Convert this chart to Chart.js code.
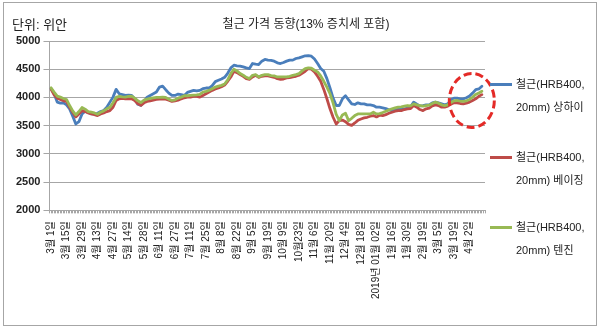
<!DOCTYPE html>
<html>
<head>
<meta charset="utf-8">
<script src="https://cdn.jsdelivr.net/npm/chart.js@4.4.1/dist/chart.umd.min.js"></script>
<style>
  html, body { margin: 0; padding: 0; background: #fff; }
  #wrap {
    position: relative; width: 600px; height: 327px; overflow: hidden;
    font-family: "Liberation Sans", "Noto Sans CJK KR", sans-serif; color: #222;
  }
  #frame {
    position: absolute; left: 3px; top: 2px; width: 592px; height: 322px;
    border: 1px solid #a6a6a6;
  }
  canvas { position: absolute; left: 0; top: 0; }
  #unit { position: absolute; left: 12px; top: 16px; font-size: 13px; line-height: 18px; }
  #title { position: absolute; left: 0; width: 612px; top: 15px; text-align: center; font-size: 12px; line-height: 18px; }
  .leg { position: absolute; left: 490px; }
  .leg .sw { position: absolute; left: 0; top: 10px; width: 22px; height: 3px; }
  .leg .txt { position: absolute; left: 26px; top: 0; white-space: nowrap; font-size: 11px; line-height: 23px; }
</style>
</head>
<body>
<div id="wrap">
  <canvas id="chart" width="600" height="327"></canvas>
  <div id="frame"></div>
  <div id="unit">단위: 위안</div>
  <div id="title">철근 가격 동향(13% 증치세 포함)</div>
  <div id="legend"></div>
</div>
<script>
// x labels, one every 10 trading days
const dateLabels = [
  '3월 1일', '3월 15일', '3월 29일', '4월 13일', '4월 27일', '5월 14일', '5월 28일',
  '6월 11일', '6월 27일', '7월 11일', '7월 25일', '8월 8일', '8월 22일', '9월 5일',
  '9월 19일', '10월 9일', '10월23일', '11월 6일', '11월 20일', '12월 4일', '12월 18일',
  '2019년 01월 02일', '1월 16일', '1월 30일', '2월 19일', '3월 5일', '3월 19일', '4월 2일'
];
const DAY_STEP = 2; // one price sample every 2 trading days

const seriesNames = ['철근(HRB400, 20mm) 상하이', '철근(HRB400, 20mm) 베이징', '철근(HRB400, 20mm) 텐진'];

// 상하이
const shanghai = [
  4160, 4065, 3917, 3899, 3905, 3869, 3798, 3667, 3530, 3571,
  3708, 3756, 3732, 3708, 3708, 3720, 3750, 3768, 3827, 3917,
  4006, 4143, 4065, 4050, 4036, 4042, 4036, 3976, 3880, 3860,
  3929, 4006, 4036, 4065, 4095, 4184, 4202, 4137, 4077, 4036,
  4036, 4060, 4048, 4036, 4089, 4107, 4125, 4115, 4125, 4155,
  4167, 4167, 4208, 4280, 4304, 4327, 4357, 4428, 4524, 4571,
  4560, 4554, 4542, 4524, 4512, 4601, 4589, 4583, 4643, 4673,
  4661, 4655, 4643, 4613, 4601, 4619, 4643, 4661, 4661, 4690,
  4702, 4720, 4738, 4740, 4730, 4680, 4600, 4512, 4464, 4333,
  4167, 3988, 3857, 3857, 3975, 4030, 3958, 3887, 3875, 3905,
  3887, 3887, 3869, 3869, 3857, 3827, 3827, 3815, 3804, 3780,
  3768, 3774, 3792, 3798, 3798, 3810, 3833, 3917, 3880, 3850,
  3857, 3869, 3869, 3905, 3917, 3905, 3887, 3869, 3887, 3958,
  3988, 3988, 3976, 3976, 3994, 4024, 4077, 4137, 4150, 4200
];
// 베이징
const beijing = [
  4150, 4048, 3988, 3964, 3940, 3929, 3827, 3738, 3655, 3708,
  3768, 3750, 3726, 3708, 3696, 3679, 3708, 3726, 3750, 3768,
  3827, 3946, 3976, 3985, 3976, 3976, 3976, 3946, 3887, 3860,
  3905, 3929, 3940, 3952, 3964, 3970, 3976, 3970, 3952, 3929,
  3940, 3952, 3976, 3994, 4006, 4006, 4018, 4020, 4006, 4036,
  4065, 4095, 4125, 4149, 4167, 4190, 4220, 4286, 4363, 4464,
  4440, 4405, 4375, 4333, 4321, 4363, 4393, 4357, 4375, 4381,
  4381, 4369, 4357, 4333, 4321, 4327, 4345, 4351, 4363, 4375,
  4393, 4429, 4464, 4512, 4500, 4452, 4375, 4286, 4143, 3976,
  3798, 3649, 3530, 3589, 3600, 3571, 3524, 3506, 3548, 3595,
  3619, 3637, 3649, 3667, 3679, 3655, 3685, 3679, 3696, 3720,
  3738, 3756, 3768, 3768, 3786, 3798, 3804, 3857, 3827, 3786,
  3768, 3798, 3810, 3851, 3869, 3857, 3827, 3827, 3845, 3881,
  3905, 3905, 3893, 3887, 3899, 3917, 3946, 3976, 4020, 4050
];
// 텐진
const tianjin = [
  4170, 4095, 4024, 4006, 3982, 3964, 3857, 3762, 3690, 3750,
  3821, 3792, 3750, 3738, 3726, 3702, 3738, 3762, 3798, 3827,
  3905, 4000, 4018, 4010, 4006, 4018, 4024, 3988, 3940, 3910,
  3952, 3970, 3982, 3994, 4000, 4000, 4006, 4000, 3970, 3946,
  3958, 3988, 4006, 4030, 4030, 4036, 4042, 4045, 4054, 4095,
  4107, 4125, 4155, 4184, 4202, 4214, 4238, 4310, 4423, 4500,
  4470, 4423, 4393, 4357, 4333, 4393, 4405, 4363, 4393, 4405,
  4405, 4387, 4381, 4363, 4363, 4363, 4363, 4375, 4393, 4405,
  4423, 4470, 4512, 4524, 4518, 4482, 4452, 4381, 4286, 4184,
  4065, 3900, 3700, 3589, 3690, 3720, 3589, 3631, 3679, 3708,
  3708, 3708, 3708, 3708, 3738, 3708, 3714, 3732, 3756, 3780,
  3798, 3815, 3827, 3833, 3845, 3857, 3851, 3887, 3870, 3857,
  3845, 3857, 3863, 3893, 3917, 3899, 3869, 3857, 3869, 3911,
  3940, 3946, 3935, 3929, 3940, 3964, 4006, 4054, 4080, 4110
];

const colors = ['#4a7ebb', '#be4b48', '#98b954'];
const FONT = "'Liberation Sans', 'Noto Sans CJK KR', sans-serif";

function toPoints(arr) {
  return arr.map((v, i) => ({ x: i * DAY_STEP, y: v }));
}

// red dashed ring around the latest rise
const ring = { day: 271.5, value: 3946 };
const ringPlugin = {
  id: 'ring',
  afterDraw(chart) {
    const { ctx, scales } = chart;
    const cx = scales.x.getPixelForValue(ring.day);
    const cy = scales.y.getPixelForValue(ring.value);
    ctx.save();
    ctx.strokeStyle = '#e42a27';
    ctx.lineWidth = 3;
    ctx.setLineDash([8, 4]);
    ctx.beginPath();
    ctx.ellipse(cx, cy, 22.5, 27, 0, 0, Math.PI * 2);
    ctx.stroke();
    ctx.restore();
  }
};

const lines = [shanghai, beijing, tianjin];
const datasets = lines.map((arr, i) => ({
  label: seriesNames[i],
  data: toPoints(arr),
  borderColor: colors[i],
  backgroundColor: colors[i],
  borderWidth: 2.8,
  pointRadius: 0,
  tension: 0,
  borderJoinStyle: 'round',
  borderCapStyle: 'round',
  order: 2 - i // 텐진 on top
}));

new Chart(document.getElementById('chart'), {
  type: 'line',
  data: { datasets },
  options: {
    responsive: false,
    animation: false,
    layout: { padding: { left: 13, top: 41, right: 115, bottom: 20 } },
    plugins: { legend: { display: false }, title: { display: false }, tooltip: { enabled: false } },
    scales: {
      x: {
        type: 'linear',
        min: -1,
        max: 280,
        ticks: {
          stepSize: 1,
          autoSkip: false,
          maxTicksLimit: 1000,
          minRotation: 90,
          maxRotation: 90,
          padding: 8,
          color: '#222',
          font: { size: 10, family: FONT },
          callback: (v) => (v >= 0 && v % 10 === 0 && dateLabels[v / 10]) ? dateLabels[v / 10] : ''
        },
        grid: { drawOnChartArea: false, tickLength: 3, color: '#a6a6a6' },
        border: { color: '#a6a6a6' }
      },
      y: {
        min: 2000,
        max: 5000,
        ticks: {
          stepSize: 500,
          padding: 3,
          color: '#222',
          font: { size: 11, weight: 'bold', family: FONT },
          callback: (v) => String(v)
        },
        grid: { color: '#a6a6a6', tickLength: 6 },
        border: { color: '#a6a6a6' }
      }
    }
  },
  plugins: [ringPlugin]
});

// legend beside the plot, two text lines per series
const legendTops = [73, 146, 216];
const legend = document.getElementById('legend');
seriesNames.forEach((name, i) => {
  const item = document.createElement('div');
  item.className = 'leg';
  item.style.top = legendTops[i] + 'px';
  const sw = document.createElement('span');
  sw.className = 'sw';
  sw.style.background = colors[i];
  const txt = document.createElement('div');
  txt.className = 'txt';
  const parts = name.split(' ');
  txt.innerHTML = parts[0] + '<br>' + parts.slice(1).join(' ');
  item.appendChild(sw);
  item.appendChild(txt);
  legend.appendChild(item);
});
</script>
</body>
</html>
